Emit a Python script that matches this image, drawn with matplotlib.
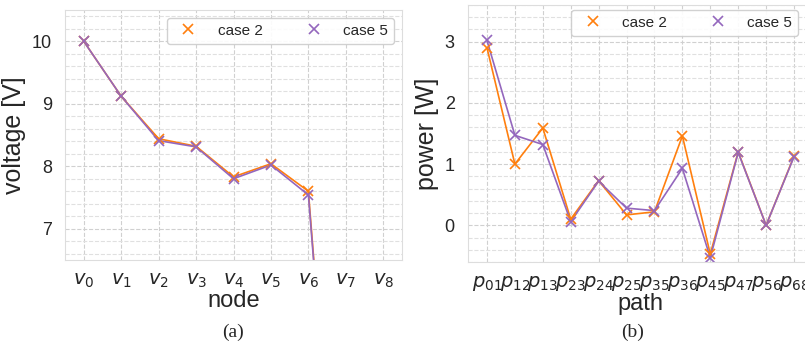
import numpy as np
import matplotlib
matplotlib.use("Agg")
import matplotlib.pyplot as plt
import seaborn as sns
from matplotlib.ticker import MultipleLocator

# Datos
nodos = [r"$v_{%d}$" % i for i in range(9)]
volt_caso2 = [10.0, 9.12, 8.44, 8.32, 7.83, 8.04, 7.60, 0.0, 0.0]
volt_caso5 = [10.0, 9.12, 8.41, 8.31, 7.80, 8.02, 7.54, 0.0, 0.0]

caminos = ["01", "12", "13", "23", "24", "25", "35", "36", "45", "47", "56", "68"]
etiquetas_p = [r"$p_{%s}$" % c for c in caminos]
pot_caso2 = [2.90, 1.00, 1.59, 0.10, 0.73, 0.17, 0.22, 1.46, -0.47, 1.20, 0.00, 1.13]
pot_caso5 = [3.02, 1.47, 1.32, 0.06, 0.72, 0.28, 0.24, 0.93, -0.53, 1.19, 0.00, 1.12]

sns.set_style("whitegrid")
plt.rcParams['font.family'] = ['Liberation Sans', 'DejaVu Sans']
naranja = "#ff7f0e"
morado = "#9467bd"

fig = plt.figure(figsize=(8.05, 3.48), dpi=100)
W, H = 805, 348
ax1 = fig.add_axes([65 / W, (H - 260) / H, 337 / W, 250 / H])
ax2 = fig.add_axes([468 / W, (H - 262) / H, 345 / W, 257 / H])


def graficar(ax, y2, y5, etiquetas, label_x, label_y):
    x = np.arange(len(etiquetas))
    ax.plot(x, y2, color=naranja, lw=1.2)
    ax.plot(x, y5, color=morado, lw=1.2)
    ax.plot(x, y2, color=naranja, marker="x", ms=7, mew=1.2, ls="none", label="case 2")
    ax.plot(x, y5, color=morado, marker="x", ms=7, mew=1.2, ls="none", label="case 5")
    ax.set_xticks(x)
    ax.set_xticklabels(etiquetas, fontsize=14)
    ax.yaxis.set_minor_locator(MultipleLocator(0.2))
    ax.grid(True, which="major", ls="--", color="#d0d0d0", lw=0.8)
    ax.grid(True, which="minor", axis="y", ls="--", color="#e0e0e0", lw=0.8)
    ax.tick_params(axis="y", labelsize=13, pad=6)
    ax.tick_params(axis="x", pad=5)
    ax.set_xlabel(label_x, fontsize=17, labelpad=0)
    ax.set_ylabel(label_y, fontsize=18)
    for s in ax.spines.values():
        s.set_color("#dddddd")


graficar(ax1, volt_caso2, volt_caso5, nodos, "node", "voltage [V]")
ax1.set_xlim(-0.5, 8.5)
ax1.set_ylim(6.5, 10.5)
ax1.set_yticks([7, 8, 9, 10])
ax1.legend(loc="upper right", ncol=2, fontsize=11, handletextpad=0.9,
           columnspacing=2.4, frameon=True, framealpha=0.9)

graficar(ax2, pot_caso2, pot_caso5, etiquetas_p, "path", "power [W]")
ax2.set_xlim(-0.68, 11.68)
ax2.set_ylim(-0.6, 3.6)
ax2.set_yticks([0, 1, 2, 3])
ax2.legend(loc="upper right", ncol=2, fontsize=11, handletextpad=0.9,
           columnspacing=2.4, frameon=True, framealpha=0.9,
           bbox_to_anchor=(806 / W, 1.0 - 2 / H), bbox_transform=fig.transFigure)

fig.text(233 / W, 1 - 332 / H, "(a)", fontsize=14, family="Liberation Serif",
         ha="center", va="center")
fig.text(633 / W, 1 - 332 / H, "(b)", fontsize=14, family="Liberation Serif",
         ha="center", va="center")

fig.savefig("out.png", dpi=100)
